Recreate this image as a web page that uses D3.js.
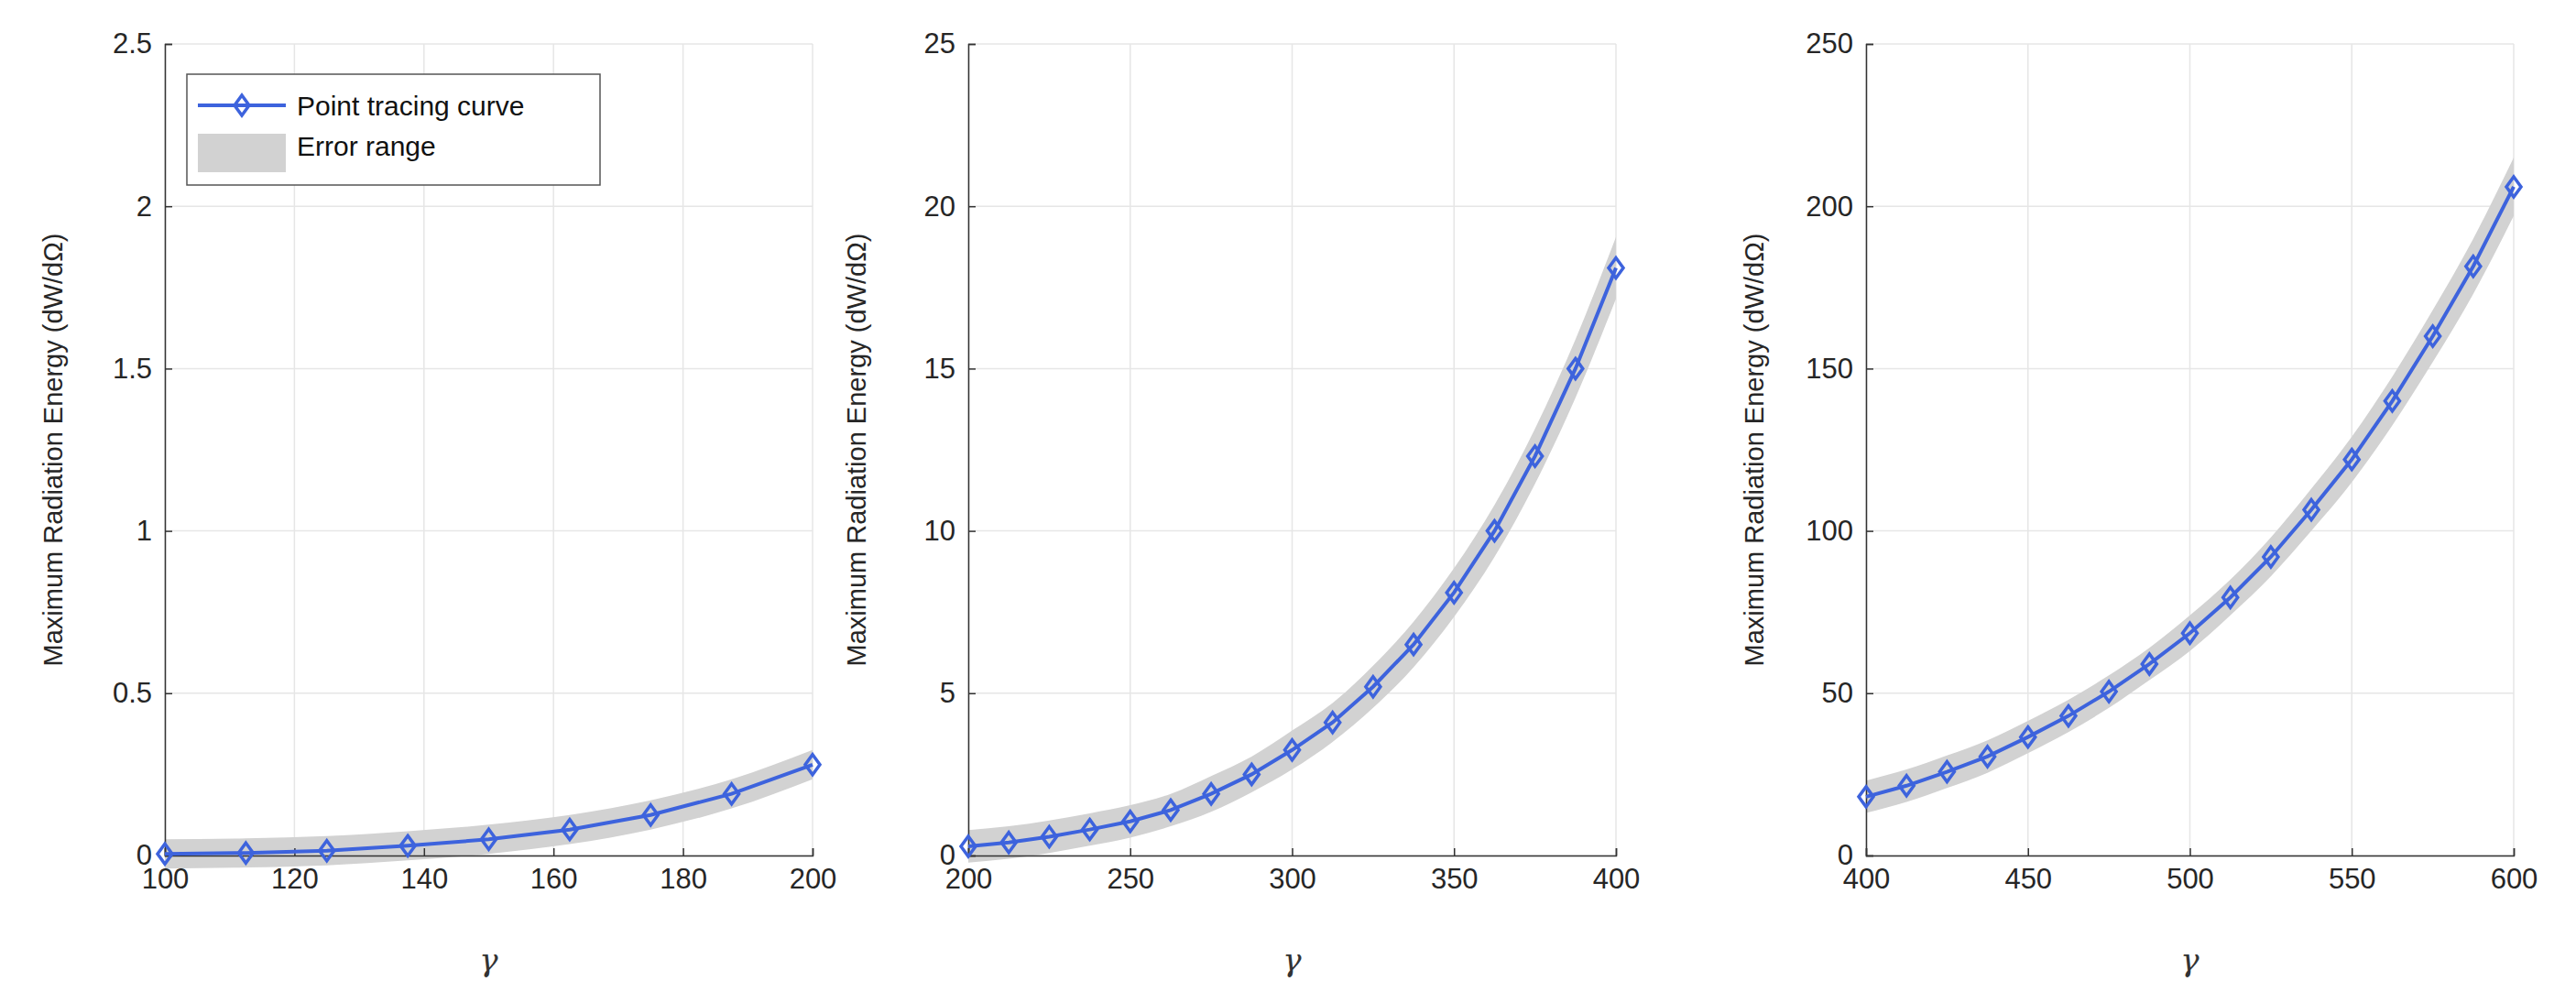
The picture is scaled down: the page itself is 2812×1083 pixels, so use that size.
<!DOCTYPE html>
<html><head><meta charset="utf-8">
<script src="https://cdn.jsdelivr.net/npm/d3@7"></script>
<style>body{margin:0;background:#fff}</style></head>
<body><svg id="c" width="2812" height="1083"></svg>
<script>
const gamma1 = [100,112.5,125,137.5,150,162.5,175,187.5,200];
const energy1 = [0.005,0.008,0.015,0.03,0.05,0.08,0.125,0.19,0.28];
const err1 = [0.045,0.045,0.045,0.045,0.045,0.045,0.045,0.045,0.045];
const gamma2 = [200,212.5,225,237.5,250,262.5,275,287.5,300,312.5,325,337.5,350,362.5,375,387.5,400];
const energy2 = [0.28,0.4,0.58,0.8,1.05,1.4,1.9,2.5,3.25,4.1,5.2,6.5,8.1,10.0,12.3,15.0,18.1];
const err2 = [0.5,0.5,0.5,0.5,0.5,0.5,0.55,0.55,0.6,0.6,0.65,0.7,0.75,0.8,0.85,0.9,0.95];
const gamma3 = [400,412.5,425,437.5,450,462.5,475,487.5,500,512.5,525,537.5,550,562.5,575,587.5,600];
const energy3 = [18.1,21.5,25.8,30.5,36.5,43,50.5,59,68.5,79.5,92,106.5,122,140,160,181.5,206];
const err3 = [5,5,5,5,5,5,5,5,5.5,5.5,6,6.5,7,7.5,8,8.5,9];
const xTicks = [[100,120,140,160,180,200],[200,250,300,350,400],[400,450,500,550,600]];
const yTicks = [[0,0.5,1,1.5,2,2.5],[0,5,10,15,20,25],[0,50,100,150,200,250]];
const xDomains = [[100,200],[200,400],[400,600]];
const yDomains = [[0,2.5],[0,25],[0,250]];
const yLabel = "Maximum Radiation Energy (dW/dΩ)";
const legendLabels = ["Point tracing curve","Error range"];

const panels = [[gamma1,energy1,err1],[gamma2,energy2,err2],[gamma3,energy3,err3]];
const svg = d3.select("#c");
const lefts = [180,1057,2037], W = 707, topY = 48, bottomY = 934;
const font = "Helvetica, Arial, 'Liberation Sans', sans-serif";
const blue = "#3d63dd";

panels.forEach((p,i)=>{
  const [gx,gy,ge] = p;
  const data = gx.map((g,k)=>({g, e:gy[k], r:ge[k]}));
  const x = d3.scaleLinear().domain(xDomains[i]).range([lefts[i], lefts[i]+W]);
  const y = d3.scaleLinear().domain(yDomains[i]).range([bottomY, topY]);
  const g = svg.append("g");
  g.selectAll(".gx").data(xTicks[i]).join("line").attr("x1",d=>x(d)).attr("x2",d=>x(d))
    .attr("y1",topY).attr("y2",bottomY).attr("stroke","#e6e6e6").attr("stroke-width",1.5);
  g.selectAll(".gy").data(yTicks[i]).join("line").attr("y1",d=>y(d)).attr("y2",d=>y(d))
    .attr("x1",lefts[i]).attr("x2",lefts[i]+W).attr("stroke","#e6e6e6").attr("stroke-width",1.5);
  g.append("path").datum(data).attr("fill","#d2d2d2")
    .attr("d", d3.area().x(d=>x(d.g)).y0(d=>y(d.e-d.r)).y1(d=>y(d.e+d.r)).curve(d3.curveMonotoneX));
  const ax = g.append("g").attr("transform",`translate(0,${bottomY})`)
    .call(d3.axisBottom(x).tickValues(xTicks[i]).tickSize(-8).tickPadding(14).tickFormat(d3.format("")));
  const ay = g.append("g").attr("transform",`translate(${lefts[i]},0)`)
    .call(d3.axisLeft(y).tickValues(yTicks[i]).tickSize(-8).tickPadding(14).tickFormat(d3.format("")));
  [ax,ay].forEach(a=>{
    a.select(".domain").attr("stroke","#333").attr("stroke-width",1.5);
    a.selectAll(".tick line").attr("stroke","#333").attr("stroke-width",1.5);
    a.selectAll("text").attr("font-family",font).attr("font-size",31).attr("fill","#262626");
  });
  g.append("path").datum(data).attr("fill","none").attr("stroke",blue).attr("stroke-width",4)
    .attr("d", d3.line().x(d=>x(d.g)).y(d=>y(d.e)));
  g.selectAll(".m").data(data).join("path")
    .attr("transform",d=>`translate(${x(d.g)},${y(d.e)})`)
    .attr("d","M0,-11L8,0L0,11L-8,0Z").attr("fill","none").attr("stroke",blue).attr("stroke-width",3.5);
  g.append("text").attr("x",x((xDomains[i][0]+xDomains[i][1])/2)).attr("y",1060)
    .attr("text-anchor","middle").attr("font-family","'DejaVu Serif', serif").attr("font-style","italic")
    .attr("font-size",34).attr("fill","#333").text("γ");
  g.append("text").attr("transform",`translate(${lefts[i]-112},${(topY+bottomY)/2}) rotate(-90)`)
    .attr("text-anchor","middle").attr("font-family",font).attr("font-size",29).attr("fill","#262626").text(yLabel);
});

const lg = svg.append("g");
lg.append("rect").attr("x",204).attr("y",81).attr("width",451).attr("height",121)
  .attr("fill","#fff").attr("stroke","#555").attr("stroke-width",1.5);
lg.append("line").attr("x1",216).attr("x2",312).attr("y1",115).attr("y2",115).attr("stroke",blue).attr("stroke-width",4);
lg.append("path").attr("transform","translate(264,115)").attr("d","M0,-11L8,0L0,11L-8,0Z")
  .attr("fill","none").attr("stroke",blue).attr("stroke-width",3.5);
lg.append("rect").attr("x",216).attr("y",146).attr("width",96).attr("height",42).attr("fill","#d2d2d2");
lg.selectAll(".lt").data(legendLabels).join("text").attr("x",324).attr("y",(d,k)=>126+k*44)
  .attr("font-family",font).attr("font-size",30).attr("fill","#111").text(d=>d);
</script></body></html>
